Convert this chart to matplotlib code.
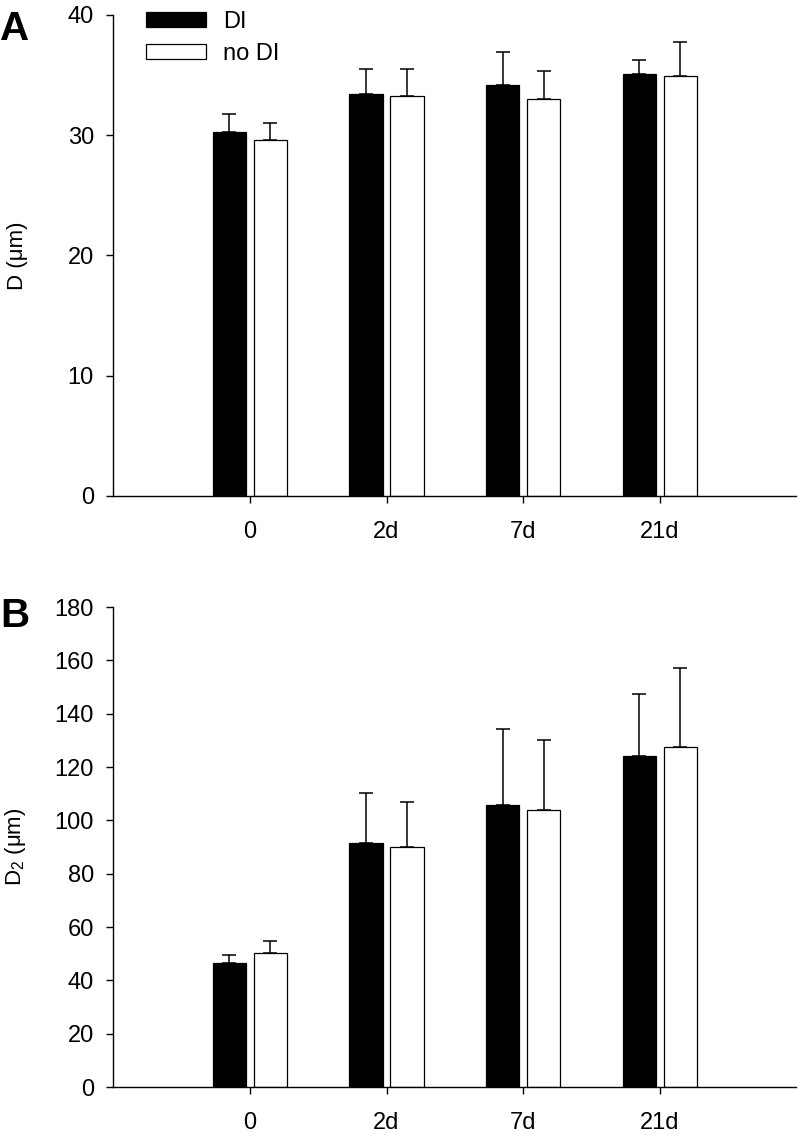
import numpy as np
import matplotlib
matplotlib.use("Agg")
import matplotlib.pyplot as plt

# =====================================================
# DATA
# =====================================================

groups = ["0", "2d", "7d", "21d"]
series_names = ["DI", "no DI"]

d_di = [30.25, 33.41, 34.18, 35.09]
d_di_err = [1.54, 2.07, 2.74, 1.17]
d_nodi = [29.58, 33.26, 33.04, 34.90]
d_nodi_err = [1.46, 2.25, 2.33, 2.85]

d2_di = [46.6, 91.5, 105.9, 124.2]
d2_di_err = [2.9, 18.75, 28.2, 23.2]
d2_nodi = [50.4, 90.0, 103.9, 127.4]
d2_nodi_err = [4.5, 16.9, 26.1, 29.7]

# =====================================================
# STYLE
# =====================================================

plt.rcParams["font.family"] = ["Liberation Sans", "DejaVu Sans"]
plt.rcParams["mathtext.fontset"] = "custom"
plt.rcParams["mathtext.rm"] = "Liberation Sans"
plt.rcParams["mathtext.it"] = "Liberation Sans"
plt.rcParams["mathtext.default"] = "rm"

BAR_W = 0.245
OFFSET = 0.15
TICK_FS = 17
LABEL_FS = 16

fig = plt.figure(figsize=(8, 11.36), dpi=100)

ax_a = fig.add_axes([0.1416, 0.5634, 0.854, 0.4234])
ax_b = fig.add_axes([0.1416, 0.0431, 0.854, 0.4225])


def draw_panel(ax, di, di_err, nodi, nodi_err, ymax, ystep, ylabel):

    x = np.arange(len(groups))

    bars_di = ax.bar(
        x - OFFSET,
        di,
        width=BAR_W,
        color="black",
        edgecolor="black",
        linewidth=0.9,
        label=series_names[0],
        zorder=2
    )

    bars_nodi = ax.bar(
        x + OFFSET,
        nodi,
        width=BAR_W,
        color="white",
        edgecolor="black",
        linewidth=0.9,
        label=series_names[1],
        zorder=2
    )

    # upper error bars only
    ax.errorbar(
        x - OFFSET,
        di,
        yerr=[np.zeros(len(di)), di_err],
        fmt="none",
        ecolor="black",
        elinewidth=1.1,
        capsize=5,
        capthick=1.1,
        zorder=1
    )

    ax.errorbar(
        x + OFFSET,
        nodi,
        yerr=[np.zeros(len(nodi)), nodi_err],
        fmt="none",
        ecolor="black",
        elinewidth=1.1,
        capsize=5,
        capthick=1.1,
        zorder=1
    )

    ax.set_xlim(-1, 4)
    ax.set_ylim(0, ymax)

    ax.set_xticks(x)
    ax.set_xticklabels(groups)
    ax.set_yticks(np.arange(0, ymax + 1, ystep))

    ax.spines["top"].set_visible(False)
    ax.spines["right"].set_visible(False)
    ax.spines["left"].set_linewidth(1.0)
    ax.spines["bottom"].set_linewidth(1.0)

    ax.tick_params(axis="x", direction="out", length=5, width=1.0,
                   labelsize=TICK_FS, pad=13)
    ax.tick_params(axis="y", direction="out", length=5, width=1.0,
                   labelsize=TICK_FS, pad=9)

    ax.set_ylabel(ylabel, fontsize=LABEL_FS)
    ax.yaxis.set_label_coords(-0.125, 0.5)

    return bars_di, bars_nodi


# =====================================================
# PANEL A
# =====================================================

h_di, h_nodi = draw_panel(ax_a, d_di, d_di_err, d_nodi, d_nodi_err,
                          40, 10, "D (μm)")

fig.legend(
    [h_di, h_nodi],
    series_names,
    loc="upper left",
    bbox_to_anchor=(0.1825, 0.9903),
    frameon=False,
    fontsize=17,
    handlelength=2.55,
    handleheight=0.6,
    handletextpad=0.7,
    labelspacing=0.42,
    borderaxespad=0,
    borderpad=0
)

fig.text(0.0, 0.9915, "A", fontsize=29, fontweight="bold", va="top", ha="left")

# =====================================================
# PANEL B
# =====================================================

draw_panel(ax_b, d2_di, d2_di_err, d2_nodi, d2_nodi_err,
           180, 20, "D$_2$ (μm)")

fig.text(0.0, 0.4745, "B", fontsize=29, fontweight="bold", va="top", ha="left")

fig.savefig("out.png", dpi=100)
